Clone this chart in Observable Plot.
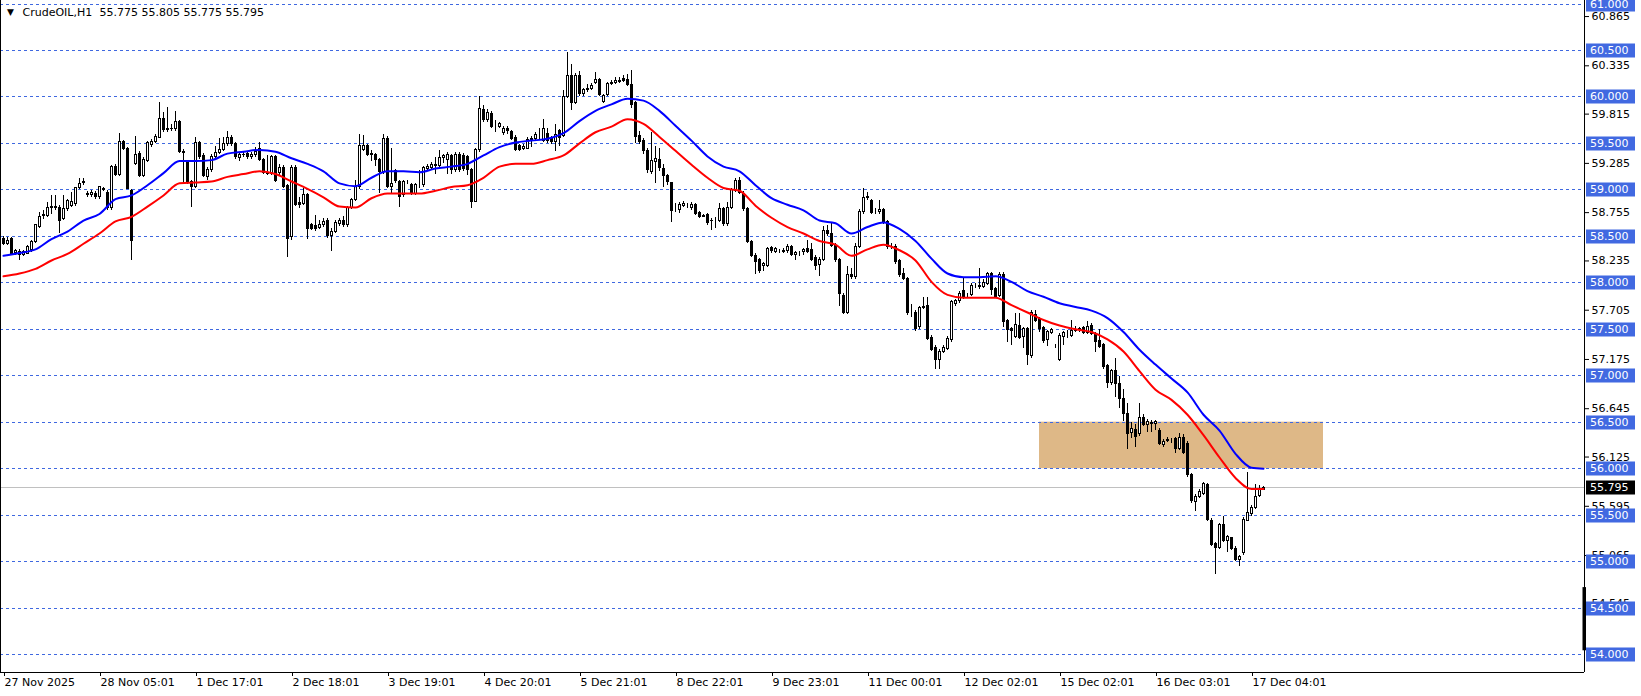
<!DOCTYPE html>
<html><head><meta charset="utf-8">
<script src="https://cdn.jsdelivr.net/npm/d3@7"></script>
<script src="https://cdn.jsdelivr.net/npm/@observablehq/plot@0.6"></script>
<style>html,body{margin:0;padding:0;background:#fff;}</style>
</head><body><div id="chart"></div>
<script>
const opens = [
58.47,58.42,58.47,58.32,58.33,58.30,58.31,58.35,58.44,58.60,
58.72,58.72,58.81,58.82,58.81,58.69,58.79,58.83,58.85,59.02,
59.07,58.96,58.94,58.96,58.92,59.01,58.97,58.80,59.25,59.16,
59.52,59.44,58.99,59.28,59.39,59.15,59.31,59.48,59.52,59.56,
59.76,59.64,59.66,59.65,59.73,59.41,59.30,59.08,59.03,59.50,
59.36,59.14,59.21,59.35,59.40,59.43,59.49,59.56,59.49,59.34,
59.37,59.39,59.35,59.37,59.44,59.32,59.18,59.17,59.35,59.18,
59.24,59.04,58.49,59.24,58.86,58.85,58.94,58.62,58.61,58.59,
58.62,58.66,58.50,58.55,58.63,58.67,58.62,58.81,58.89,59.03,
59.43,59.47,59.39,59.37,59.32,59.19,59.55,59.03,59.20,59.08,
58.94,59.08,59.05,58.96,59.04,59.05,59.22,59.24,59.27,59.26,
59.34,59.32,59.36,59.21,59.38,59.36,59.35,59.21,58.87,59.43,
59.86,59.75,59.82,59.69,59.68,59.61,59.65,59.62,59.56,59.47,
59.44,59.44,59.54,59.55,59.58,59.53,59.60,59.55,59.52,59.63,
59.58,60.00,60.23,59.94,60.23,60.03,60.07,60.09,60.15,60.18,
59.95,60.02,60.14,60.15,60.17,60.19,60.18,60.13,59.93,59.58,
59.53,59.42,59.19,59.30,59.32,59.22,59.15,59.07,58.79,58.78,
58.83,58.83,58.80,58.84,58.75,58.72,58.73,58.66,58.66,58.67,
58.79,58.63,58.81,58.99,59.10,58.96,58.79,58.44,58.29,58.24,
58.18,58.18,58.37,58.33,58.34,58.33,58.34,58.38,58.30,58.32,
58.33,58.36,58.35,58.27,58.19,58.25,58.56,58.52,58.40,58.24,
57.86,57.68,58.08,58.06,58.39,58.76,58.91,58.88,58.76,58.76,
58.78,58.65,58.39,58.39,58.23,58.09,58.04,57.68,57.68,57.52,
57.73,57.75,57.41,57.30,57.17,57.26,57.29,57.38,57.77,57.80,
57.91,57.86,57.87,57.96,57.95,57.96,57.99,58.09,57.93,57.86,
58.08,57.59,57.50,57.42,57.53,57.42,57.50,57.21,57.65,57.61,
57.51,57.38,57.46,57.30,57.17,57.42,57.45,57.43,57.48,57.49,
57.51,57.46,57.54,57.45,57.37,57.33,57.10,56.92,57.05,56.91,
56.75,56.59,56.38,56.42,56.37,56.55,56.47,56.49,56.48,56.41,
56.25,56.30,56.30,56.32,56.21,56.33,56.27,55.93,55.64,55.70,
55.73,55.82,55.44,55.19,55.15,55.39,55.22,55.25,55.14,55.02,
55.09,55.44,55.51,55.58,55.71,55.775];
const highs = [
58.50,58.49,58.49,58.36,58.36,58.35,58.40,58.45,58.63,58.76,
58.78,58.86,58.94,58.94,58.83,58.94,58.90,58.97,59.03,59.12,
59.12,58.98,58.99,58.98,59.04,59.03,58.99,59.26,59.27,59.61,
59.53,59.46,59.00,59.57,59.41,59.35,59.52,59.54,59.60,59.94,
59.83,59.89,59.70,59.84,59.75,59.43,59.32,59.10,59.56,59.52,
59.39,59.24,59.38,59.47,59.55,59.56,59.63,59.58,59.51,59.40,
59.40,59.41,59.40,59.46,59.51,59.34,59.37,59.37,59.37,59.27,
59.26,59.06,59.26,59.26,58.92,59.01,58.96,58.64,58.72,58.67,
58.69,58.69,58.58,58.67,58.69,58.71,58.82,58.91,59.10,59.60,
59.59,59.49,59.42,59.39,59.34,59.60,59.57,59.44,59.22,59.10,
59.10,59.10,59.07,59.07,59.21,59.25,59.27,59.29,59.35,59.42,
59.38,59.40,59.38,59.40,59.40,59.39,59.37,59.23,59.45,60.00,
59.91,59.87,59.84,59.75,59.73,59.68,59.68,59.64,59.58,59.49,
59.49,59.56,59.57,59.62,59.66,59.76,59.66,59.57,59.70,59.65,
60.07,60.48,60.35,60.25,60.27,60.09,60.13,60.14,60.26,60.20,
60.03,60.16,60.18,60.21,60.21,60.23,60.24,60.28,59.95,59.63,
59.55,59.45,59.62,59.47,59.44,59.27,59.17,59.08,58.85,58.86,
58.87,58.85,58.86,58.85,58.77,58.74,58.75,58.69,58.70,58.85,
58.81,58.86,59.02,59.12,59.13,58.98,58.81,58.46,58.31,58.26,
58.22,58.38,58.39,58.38,58.36,58.37,58.41,58.40,58.34,58.34,
58.37,58.45,58.42,58.29,58.27,58.61,58.62,58.65,58.42,58.26,
57.88,58.17,58.15,58.42,58.79,59.01,58.97,58.90,58.80,58.89,
58.80,58.67,58.42,58.41,58.25,58.15,58.06,57.77,57.70,57.75,
57.84,57.84,57.43,57.32,57.28,57.32,57.42,57.81,57.82,57.91,
58.06,57.89,57.99,57.99,58.15,58.04,58.11,58.11,57.95,58.11,
58.11,57.61,57.52,57.67,57.67,57.52,57.52,57.70,57.70,57.63,
57.53,57.49,57.51,57.34,57.45,57.48,57.49,57.59,57.53,57.52,
57.53,57.58,57.56,57.47,57.50,57.35,57.12,57.07,57.19,56.99,
56.85,56.70,56.50,56.48,56.70,56.58,56.53,56.52,56.52,56.43,
56.31,56.34,56.32,56.34,56.38,56.37,56.29,55.95,55.72,55.78,
55.85,55.84,55.46,55.20,55.41,55.48,55.28,55.26,55.16,55.07,
55.47,55.96,55.60,55.83,55.82,55.805];
const lows = [
58.40,58.40,58.29,58.29,58.24,58.28,58.30,58.33,58.42,58.58,
58.68,58.70,58.74,58.78,58.53,58.67,58.77,58.81,58.82,59.00,
59.05,58.92,58.92,58.90,58.90,58.98,58.78,58.78,59.14,59.14,
59.42,59.00,58.24,59.26,59.13,59.13,59.29,59.46,59.50,59.55,
59.62,59.62,59.63,59.63,59.39,59.08,59.06,58.81,59.01,59.33,
59.13,59.10,59.19,59.33,59.38,59.41,59.47,59.47,59.33,59.30,
59.35,59.33,59.33,59.35,59.30,59.16,59.15,59.15,59.08,59.15,
59.01,58.27,58.45,58.82,58.80,58.83,58.47,58.56,58.55,58.57,
58.60,58.48,58.34,58.53,58.61,58.60,58.60,58.79,58.87,59.00,
59.41,59.36,59.30,59.25,58.96,59.17,59.01,58.96,59.07,58.81,
58.92,59.06,58.94,58.94,59.02,59.03,59.20,59.21,59.17,59.24,
59.28,59.17,59.17,59.19,59.19,59.20,59.15,58.80,58.86,59.40,
59.73,59.73,59.66,59.62,59.66,59.59,59.60,59.53,59.41,59.41,
59.42,59.43,59.46,59.53,59.53,59.51,59.50,59.49,59.41,59.47,
59.56,59.98,59.85,59.92,60.00,60.01,60.05,60.07,60.13,60.00,
59.93,60.00,60.12,60.13,60.14,60.15,60.11,59.88,59.50,59.49,
59.38,59.18,59.17,59.07,59.20,59.03,59.05,58.65,58.76,58.75,
58.81,58.80,58.78,58.72,58.69,58.70,58.62,58.56,58.58,58.65,
58.61,58.61,58.79,58.97,58.95,58.77,58.42,58.27,58.09,58.10,
58.12,58.16,58.32,58.31,58.32,58.31,58.32,58.28,58.24,58.28,
58.29,58.31,58.23,58.13,58.07,58.23,58.50,58.38,58.22,57.75,
57.66,57.66,58.04,58.04,58.37,58.74,58.89,58.73,58.73,58.74,
58.63,58.36,58.36,58.20,58.06,58.02,57.65,57.63,57.48,57.50,
57.71,57.38,57.26,57.07,57.07,57.24,57.27,57.36,57.75,57.78,
57.82,57.84,57.85,57.94,57.93,57.94,57.97,57.86,57.83,57.84,
57.52,57.36,57.33,57.40,57.39,57.29,57.11,57.19,57.57,57.47,
57.35,57.31,57.44,57.29,57.15,57.33,57.40,57.41,57.47,57.47,
57.44,57.44,57.43,57.25,57.29,57.07,56.86,56.90,56.77,56.65,
56.51,56.21,56.32,56.23,56.35,56.45,56.39,56.39,56.41,56.25,
56.23,56.28,56.27,56.16,56.19,56.15,55.90,55.63,55.54,55.68,
55.71,55.43,55.16,54.86,55.13,55.20,55.10,55.12,55.00,54.95,
55.07,55.43,55.49,55.56,55.69,55.775];
const closes = [
58.42,58.45,58.31,58.34,58.30,58.33,58.38,58.44,58.62,58.71,
58.73,58.81,58.82,58.80,58.67,58.79,58.88,58.87,59.02,59.06,
59.08,58.95,58.97,58.92,59.03,59.00,58.80,59.25,59.16,59.52,
59.44,59.01,58.45,59.37,59.15,59.32,59.50,59.51,59.57,59.76,
59.64,59.66,59.65,59.73,59.41,59.40,59.08,59.03,59.50,59.35,
59.15,59.21,59.35,59.40,59.43,59.49,59.56,59.49,59.35,59.37,
59.38,59.35,59.38,59.41,59.32,59.18,59.17,59.35,59.10,59.24,
59.03,58.47,59.24,58.84,58.84,58.95,58.58,58.58,58.58,58.62,
58.65,58.50,58.55,58.64,58.66,58.62,58.81,58.89,59.03,59.47,
59.47,59.38,59.38,59.32,59.19,59.55,59.03,59.06,59.09,58.92,
59.08,59.08,58.96,59.05,59.04,59.23,59.25,59.27,59.26,59.34,
59.36,59.38,59.21,59.38,59.21,59.22,59.21,58.87,59.43,59.87,
59.75,59.83,59.68,59.69,59.71,59.65,59.63,59.55,59.43,59.43,
59.46,59.54,59.55,59.59,59.58,59.65,59.53,59.51,59.59,59.56,
60.00,60.23,59.94,60.23,60.03,60.07,60.08,60.12,60.18,60.02,
60.01,60.14,60.15,60.17,60.16,60.17,60.13,59.91,59.57,59.51,
59.42,59.21,59.31,59.33,59.23,59.15,59.08,58.77,58.79,58.84,
58.85,58.83,58.84,58.74,58.71,58.71,58.64,58.67,58.66,58.79,
58.63,58.81,59.00,59.10,58.97,58.79,58.44,58.29,58.22,58.13,
58.20,58.36,58.34,58.36,58.34,58.34,58.39,58.30,58.32,58.32,
58.35,58.33,58.25,58.18,58.25,58.56,58.52,58.40,58.24,57.88,
57.68,58.08,58.06,58.39,58.76,58.91,58.92,58.75,58.76,58.78,
58.65,58.38,58.39,58.22,58.08,58.04,57.67,57.68,57.50,57.73,
57.74,57.40,57.28,57.17,57.26,57.30,57.40,57.79,57.80,57.88,
57.84,57.86,57.97,57.96,57.97,58.00,58.09,57.92,57.85,58.08,
57.58,57.49,57.48,57.55,57.41,57.50,57.22,57.68,57.59,57.50,
57.37,57.47,57.49,57.30,57.43,57.46,57.45,57.48,57.49,57.50,
57.46,57.52,57.45,57.36,57.31,57.09,56.92,57.05,56.91,56.75,
56.59,56.37,56.43,56.34,56.55,56.47,56.50,56.48,56.50,56.27,
56.29,56.31,56.30,56.21,56.33,56.17,55.93,55.65,55.70,55.75,
55.83,55.45,55.18,55.15,55.39,55.22,55.26,55.14,55.02,55.05,
55.45,55.52,55.58,55.70,55.77,55.795];

// moving-average lines (bar index, value)
const maIndex = [0,4,8,12,16,20,24,28,32,36,40,44,48,52,56,60,64,68,72,76,80,84,88,92,96,100,104,108,112,116,
120,124,128,132,136,140,144,148,152,156,160,164,168,172,176,180,184,188,192,196,200,204,208,212,216,220,224,228,232,236,
240,244,248,252,256,260,264,268,272,276,280,284,288,292,296,300,304,308,312,315];
const maBlue = [
58.29,58.32,58.36,58.47,58.55,58.67,58.74,58.90,58.94,59.05,
59.18,59.31,59.31,59.32,59.39,59.41,59.43,59.41,59.34,59.28,
59.20,59.07,59.04,59.13,59.20,59.20,59.19,59.23,59.25,59.28,
59.37,59.46,59.51,59.53,59.55,59.61,59.74,59.85,59.92,59.98,
59.96,59.85,59.69,59.53,59.36,59.25,59.20,59.05,58.91,58.84,
58.78,58.67,58.64,58.53,58.60,58.65,58.58,58.45,58.26,58.10,
58.06,58.06,58.07,58.01,57.91,57.85,57.78,57.74,57.70,57.62,
57.47,57.28,57.12,56.97,56.82,56.58,56.41,56.16,56.01,56.00];
const maRed = [
58.07,58.10,58.15,58.24,58.31,58.42,58.53,58.66,58.71,58.82,
58.94,59.07,59.08,59.09,59.14,59.17,59.20,59.17,59.09,59.01,
58.92,58.82,58.81,58.91,58.96,58.96,58.96,58.99,59.03,59.05,
59.13,59.25,59.28,59.28,59.32,59.37,59.50,59.62,59.68,59.76,
59.71,59.57,59.42,59.27,59.13,59.02,58.99,58.83,58.70,58.60,
58.53,58.45,58.41,58.29,58.36,58.41,58.35,58.24,58.01,57.87,
57.84,57.84,57.84,57.76,57.68,57.60,57.54,57.50,57.47,57.39,
57.26,57.05,56.85,56.74,56.58,56.36,56.12,55.90,55.78,55.78];

const levels = [54.0,54.5,55.0,55.5,56.0,56.5,57.0,57.5,58.0,58.5,59.0,59.5,60.0,60.5,61.0];
const axisTicks = [60.865,60.335,59.815,59.285,58.755,58.235,57.705,57.175,56.645,56.125,55.595,55.065,54.545];
const timeTickIndex = [0,24,48,72,96,120,144,168,192,216,240,264,288,312];
const timeTickLabels = ["27 Nov 2025","28 Nov 05:01","1 Dec 17:01","2 Dec 18:01","3 Dec 19:01","4 Dec 20:01",
  "5 Dec 21:01","8 Dec 22:01","9 Dec 23:01","11 Dec 00:01","12 Dec 02:01","15 Dec 02:01","16 Dec 03:01","17 Dec 04:01"];
const lastPrice = 55.795;
const zoneStart = 259, zoneEnd = 330, zoneLow = 56.0, zoneHigh = 56.5;
const symbolName = "CrudeOIL,H1";
const headerValues = "55.775 55.805 55.775 55.795";
const scrollBar = [54.04, 54.72];

const bars = opens.map((o, i) => ({i, o, h: highs[i], l: lows[i], c: closes[i]}));
const maBlueData = maIndex.map((i, k) => ({i, v: maBlue[k]}));
const maRedData = maIndex.map((i, k) => ({i, v: maRed[k]}));

const xDomain = [-0.75, 395.25];
const yDomain = [53.8064, 61.0377];
const FONT = "DejaVu Sans";

const plot = Plot.plot({
  width: 1641, height: 696,
  marginLeft: 0, marginRight: 57, marginTop: 0, marginBottom: 24,
  x: {type: "linear", domain: xDomain},
  y: {type: "linear", domain: yDomain},
  style: {background: "white", fontFamily: FONT, fontSize: "11px", color: "black"},
  marks: [
    Plot.rect([{x1: zoneStart, x2: zoneEnd, y1: zoneLow, y2: zoneHigh}], {x1: "x1", x2: "x2", y1: "y1", y2: "y2", fill: "#DEB887"}),
    Plot.ruleY(levels, {stroke: "#3F68E0", strokeDasharray: "3,3", shapeRendering: "crispEdges"}),
    Plot.ruleY([lastPrice], {stroke: "#C0C0C0", shapeRendering: "crispEdges"}),
    Plot.ruleX(bars, {x: "i", y1: "l", y2: "h", stroke: "black", shapeRendering: "crispEdges"}),
    Plot.rect(bars, {x1: d => d.i - 0.25, x2: d => d.i + 0.25, y1: "o", y2: "c",
      fill: d => d.c >= d.o ? "white" : "black", stroke: "black", shapeRendering: "crispEdges"}),
    Plot.line(maBlueData, {x: "i", y: "v", stroke: "#0000FF", strokeWidth: 2, curve: "monotone-x"}),
    Plot.line(maRedData, {x: "i", y: "v", stroke: "#FF0000", strokeWidth: 2, curve: "monotone-x"}),
    Plot.ruleX([xDomain[0], xDomain[1]], {stroke: "black", shapeRendering: "crispEdges"}),
    Plot.ruleY([yDomain[0]], {stroke: "black", shapeRendering: "crispEdges"}),
    Plot.axisY({anchor: "right", ticks: axisTicks, tickFormat: d => d.toFixed(3), tickSize: 4, tickPadding: 3,
      textAnchor: "start", fontSize: 11, fill: "black", stroke: "black"}),
    Plot.axisX({ticks: timeTickIndex, tickFormat: d => timeTickLabels[timeTickIndex.indexOf(d)], tickSize: 4,
      tickPadding: 2, textAnchor: "start", dx: 1, fontSize: 11, fill: "black", stroke: "black"}),
    Plot.text(["▼"], {frameAnchor: "top-left", dx: 10, dy: 12, fontSize: 9, fill: "black", textAnchor: "middle", lineAnchor: "middle"}),
    Plot.text([symbolName], {frameAnchor: "top-left", dx: 22, dy: 12, fontSize: 11, fill: "black", textAnchor: "start", lineAnchor: "middle"}),
    Plot.text([headerValues], {frameAnchor: "top-left", dx: 99, dy: 12, fontSize: 11, fill: "black", textAnchor: "start", lineAnchor: "middle"})
  ]
});

const svg = d3.select(plot);
const ys = plot.scale("y");
const xs = plot.scale("x");
const xr = xs.apply(xDomain[1]);
const g = svg.append("g").attr("font-family", FONT).attr("font-size", 11).attr("text-anchor", "start");
// scroll indicator on the price axis
g.append("rect").attr("x", xr - 1.5).attr("width", 3.5)
  .attr("y", ys.apply(scrollBar[1])).attr("height", ys.apply(scrollBar[0]) - ys.apply(scrollBar[1])).attr("fill", "black");
for (const v of levels) {
  const yy = Math.round(ys.apply(v));
  g.append("rect").attr("x", xr + 2).attr("y", yy - 6.5).attr("width", 49).attr("height", 14).attr("fill", "#4169E1");
  g.append("text").attr("x", xr + 6).attr("y", yy).attr("dy", "0.36em").attr("text-anchor", "start").attr("fill", "white").text(v.toFixed(3));
}
{
  const yy = Math.round(ys.apply(lastPrice));
  g.append("rect").attr("x", xr + 2).attr("y", yy - 6.5).attr("width", 49).attr("height", 14).attr("fill", "black");
  g.append("text").attr("x", xr + 6).attr("y", yy).attr("dy", "0.36em").attr("text-anchor", "start").attr("fill", "white").text(lastPrice.toFixed(3));
}
document.getElementById("chart").appendChild(plot);
</script>
</body></html>
